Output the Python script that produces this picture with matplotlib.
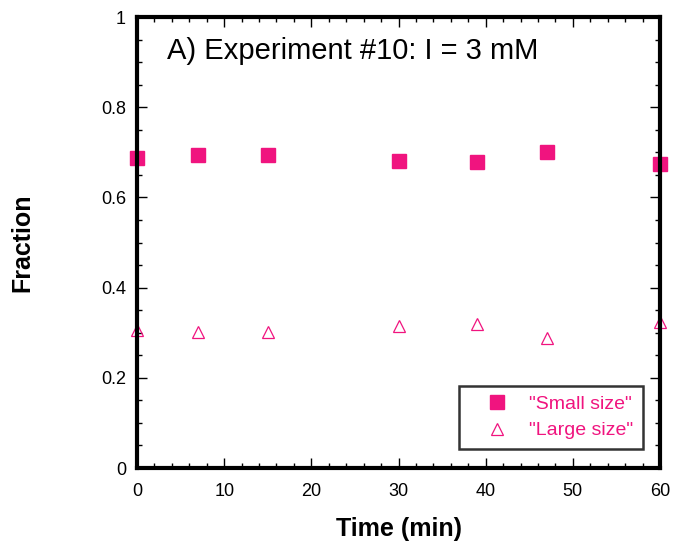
import matplotlib
matplotlib.use('Agg')
import matplotlib.pyplot as plt
from matplotlib.ticker import MultipleLocator

plt.rcParams['font.family'] = ['Liberation Sans', 'DejaVu Sans']

# 数据
time_min = [0, 7, 15, 30, 39, 47, 60]
small_size = [0.687, 0.694, 0.694, 0.681, 0.678, 0.701, 0.673]
large_size = [0.307, 0.302, 0.301, 0.314, 0.319, 0.288, 0.324]

PINK = '#F0147F'

fig = plt.figure(figsize=(6.73, 5.54), dpi=100)
ax = fig.add_axes([0.2036, 0.1552, 0.7771, 0.8141])

ax.plot(time_min, small_size, 's', color=PINK, markersize=9.5, clip_on=False,
        label='"Small size"')
ax.plot(time_min, large_size, '^', markerfacecolor='none', markeredgecolor=PINK,
        markersize=8.5, markeredgewidth=0.9, clip_on=False, label='"Large size"')

ax.set_xlim(0, 60)
ax.set_ylim(0, 1)
ax.xaxis.set_major_locator(MultipleLocator(10))
ax.xaxis.set_minor_locator(MultipleLocator(2))
ax.yaxis.set_minor_locator(MultipleLocator(0.05))
ax.set_yticks([0, 0.2, 0.4, 0.6, 0.8, 1.0])
ax.set_yticklabels(['0', '0.2', '0.4', '0.6', '0.8', '1'])

ax.tick_params(which='both', direction='in', top=True, right=True, labelsize=13)
ax.tick_params(axis='x', pad=11)
ax.tick_params(axis='y', pad=8)
ax.tick_params(which='major', length=7, width=1)
ax.tick_params(which='minor', length=3.5, width=1)
for sp in ax.spines.values():
    sp.set_linewidth(3)

ax.set_xlabel('Time (min)', fontsize=18, fontweight='bold', labelpad=12)
ax.set_ylabel('Fraction', fontsize=18, fontweight='bold', labelpad=48)

ax.text(0.058, 0.925, 'A) Experiment #10: I = 3 mM', transform=ax.transAxes,
        fontsize=21, va='center', ha='left')

leg = ax.legend(loc='lower right', fontsize=14, frameon=True, fancybox=False,
                edgecolor='black', borderpad=0.5, handlelength=2.9,
                handletextpad=0.2, labelspacing=0.45, borderaxespad=0,
                bbox_to_anchor=(0.967, 0.042), labelcolor=PINK)
leg.get_frame().set_linewidth(1.8)

plt.savefig('out.png', dpi=100)
plt.close()
